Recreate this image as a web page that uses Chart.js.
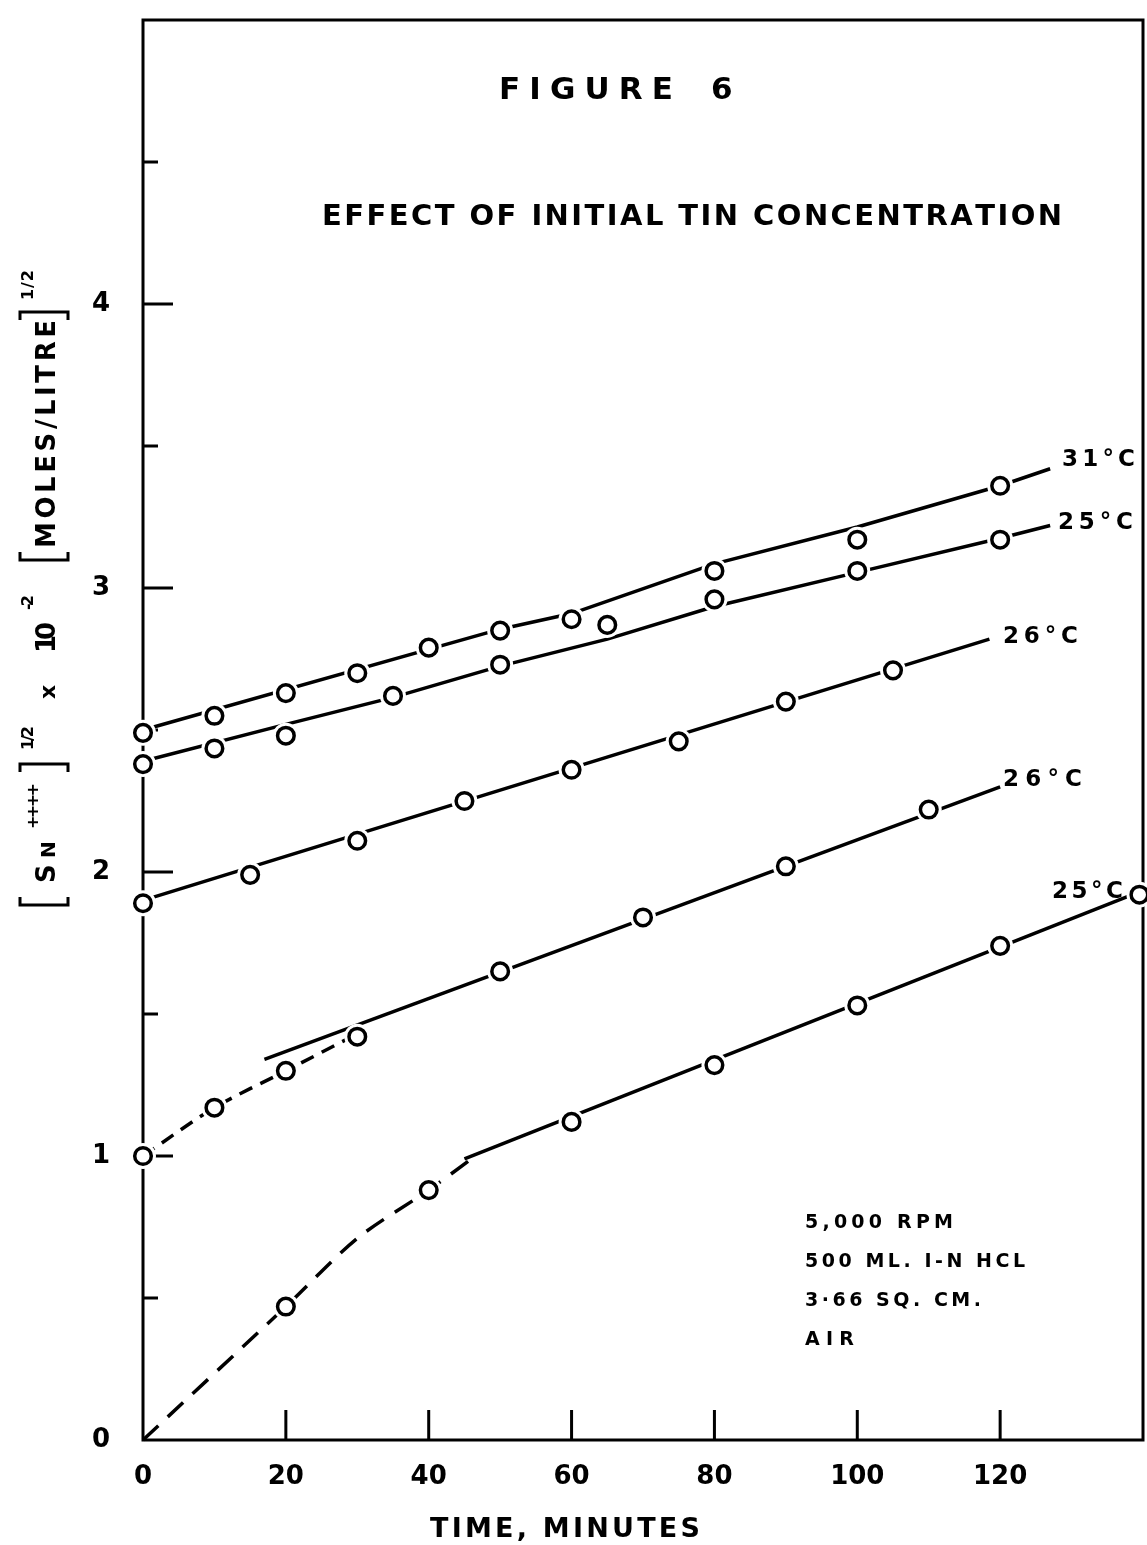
<!DOCTYPE html>
<html>
<head>
<meta charset="utf-8">
<script src="https://cdn.jsdelivr.net/npm/chart.js@4"></script>
<style>
  html, body { margin: 0; padding: 0; background: #fff; }
  canvas { display: block; }
</style>
</head>
<body>
<canvas id="chart" width="1147" height="1545"></canvas>
<script>
// measured points (time in minutes, [Sn]^1/2 x 10^-2)
const t31 = [0, 10, 20, 30, 40, 50, 60, 80, 100, 120];
const c31 = [2.49, 2.55, 2.63, 2.70, 2.79, 2.85, 2.89, 3.06, 3.17, 3.36];
const t25a = [0, 10, 20, 35, 50, 65, 80, 100, 120];
const c25a = [2.38, 2.435, 2.48, 2.62, 2.73, 2.87, 2.96, 3.06, 3.17];
const t26a = [0, 15, 30, 45, 60, 75, 90, 105];
const c26a = [1.89, 1.99, 2.11, 2.25, 2.36, 2.46, 2.60, 2.71];
const t26b = [0, 10, 20, 30, 50, 70, 90, 110];
const c26b = [1.00, 1.17, 1.30, 1.42, 1.65, 1.84, 2.02, 2.22];
const t25b = [20, 40, 60, 80, 100, 120, 139.5];
const c25b = [0.47, 0.88, 1.12, 1.32, 1.53, 1.74, 1.92];

// hand drawn lines through the points
const fitT31 = [0, 50, 60, 80, 100, 120, 127];
const fitC31 = [2.50, 2.855, 2.91, 3.085, 3.215, 3.36, 3.42];
const fitT25a = [0, 20, 35, 50, 65, 80, 100, 120, 127];
const fitC25a = [2.39, 2.52, 2.615, 2.725, 2.82, 2.935, 3.055, 3.175, 3.22];
const fitT26a = [0, 118.5];
const fitC26a = [1.90, 2.82];
const fitT26b = [17, 120];
const fitC26b = [1.34, 2.30];
const dashT26b = [0, 10, 20, 30];
const dashC26b = [1.00, 1.17, 1.30, 1.43];
const fitT25b = [45, 139.5];
const fitC25b = [0.99, 1.93];
const dashT25b = [0, 20, 30, 40, 46];
const dashC25b = [0, 0.47, 0.71, 0.88, 0.99];

const xTickValues = [20, 40, 60, 80, 100, 120];
const yMajorValues = [1, 2, 3, 4];
const yMinorValues = [0.5, 1.5, 2.5, 3.5, 4.5];

const seriesNames = [`31°C`, `25°C`, `26°C`, `26°C`, `25°C`];
const notes = [`5,000 RPM`, `500 ML. I-N HCL`, `3·66 SQ. CM.`, `AIR`];

const FONT = `"DejaVu Sans"`;
const INK = `#000`;

const toPoints = (xs, ys) => xs.map((x, i) => ({x, y: ys[i]}));

const markerSet = (xs, ys) => ({
  data: toPoints(xs, ys),
  showLine: false,
  pointRadius: 8.3,
  pointBorderWidth: 3.5,
  pointBorderColor: INK,
  pointBackgroundColor: `#fff`,
  order: 1,
  clip: false
});

// white ring so lines stop short of the circles
const haloSet = (xs, ys) => ({
  data: toPoints(xs, ys),
  showLine: false,
  pointRadius: 13,
  pointBorderWidth: 0,
  pointBackgroundColor: `#fff`,
  order: 2,
  clip: false
});

const lineSet = (xs, ys, dash) => ({
  data: toPoints(xs, ys),
  showLine: true,
  borderColor: INK,
  borderWidth: 3.5,
  borderDash: dash || [],
  pointRadius: 0,
  tension: dash ? 0.3 : 0,
  order: 3,
  clip: false
});

const drawSpaced = (ctx, text, left, width, y, font) => {
  ctx.font = font;
  const chars = [...text];
  const widths = chars.map((c) => ctx.measureText(c).width);
  const total = widths.reduce((a, b) => a + b, 0);
  const gap = chars.length > 1 ? (width - total) / (chars.length - 1) : 0;
  let x = left;
  chars.forEach((c, i) => {
    ctx.fillText(c, x, y);
    x += widths[i] + gap;
  });
};

const frameAndTicks = {
  id: `frameAndTicks`,
  beforeDatasetsDraw(chart) {
    const {ctx, chartArea: a, scales} = chart;
    ctx.save();
    ctx.strokeStyle = INK;
    ctx.lineWidth = 3;
    ctx.strokeRect(a.left, a.top, a.right - a.left, a.bottom - a.top);
    ctx.beginPath();
    xTickValues.forEach((v) => {
      const x = scales.x.getPixelForValue(v);
      ctx.moveTo(x, a.bottom);
      ctx.lineTo(x, a.bottom - 30);
    });
    yMajorValues.forEach((v) => {
      const y = scales.y.getPixelForValue(v);
      ctx.moveTo(a.left, y);
      ctx.lineTo(a.left + 30, y);
    });
    yMinorValues.forEach((v) => {
      const y = scales.y.getPixelForValue(v);
      ctx.moveTo(a.left, y);
      ctx.lineTo(a.left + 15, y);
    });
    ctx.stroke();
    ctx.restore();
  }
};

const bracket = (ctx, x, open) => {
  const d = open ? 8 : -8;
  ctx.beginPath();
  ctx.moveTo(x + d, -35);
  ctx.lineTo(x, -35);
  ctx.lineTo(x, 13);
  ctx.lineTo(x + d, 13);
  ctx.stroke();
};

const texts = {
  id: `texts`,
  afterDraw(chart) {
    const {ctx} = chart;
    ctx.save();
    ctx.fillStyle = INK;
    ctx.strokeStyle = INK;
    ctx.textBaseline = `middle`;
    ctx.textAlign = `left`;

    drawSpaced(ctx, `FIGURE`, 499, 174, 91, `bold 31px ${FONT}`);
    drawSpaced(ctx, `6`, 711, 20, 91, `bold 31px ${FONT}`);
    drawSpaced(ctx, `EFFECT OF INITIAL TIN CONCENTRATION`, 322, 740, 217, `bold 29px ${FONT}`);

    const labelPos = [[1062, 460, 73], [1058, 523, 75], [1003, 637, 75], [1003, 780, 79], [1052, 892, 71]];
    seriesNames.forEach((s, i) => {
      const [x, y, w] = labelPos[i];
      drawSpaced(ctx, s, x, w, y, `bold 23px ${FONT}`);
    });

    const noteWidths = [148, 220, 176, 49];
    notes.forEach((s, i) => {
      drawSpaced(ctx, s, 805, noteWidths[i], 1223 + i * 39, `bold 19px ${FONT}`);
    });

    drawSpaced(ctx, `TIME, MINUTES`, 430, 270, 1530, `bold 27px ${FONT}`);

    // rotated y axis title
    ctx.translate(55, 910);
    ctx.rotate(-Math.PI / 2);
    ctx.textBaseline = `alphabetic`;
    ctx.lineWidth = 3;
    const big = `bold 26px ${FONT}`;
    const sup = `bold 16px ${FONT}`;
    bracket(ctx, 5, true);
    drawSpaced(ctx, `S`, 27, 18, 0, big);
    drawSpaced(ctx, `N`, 52, 16, 0, `bold 20px ${FONT}`);
    drawSpaced(ctx, `++++`, 81, 46, -17, sup);
    bracket(ctx, 146, false);
    drawSpaced(ctx, `1/2`, 160, 24, -22, sup);
    drawSpaced(ctx, `x`, 211, 16, 0, `bold 22px ${FONT}`);
    drawSpaced(ctx, `10`, 257, 31, 0, big);
    drawSpaced(ctx, `-2`, 300, 15, -22, sup);
    bracket(ctx, 350, true);
    drawSpaced(ctx, `MOLES/LITRE`, 362, 228, 0, big);
    bracket(ctx, 598, false);
    drawSpaced(ctx, `1/2`, 610, 30, -22, sup);
    ctx.restore();
  }
};

new Chart(document.getElementById(`chart`), {
  type: `scatter`,
  data: {
    datasets: [
      markerSet(t31, c31),
      markerSet(t25a, c25a),
      markerSet(t26a, c26a),
      markerSet(t26b, c26b),
      markerSet(t25b, c25b),
      haloSet(t31, c31),
      haloSet(t25a, c25a),
      haloSet(t26a, c26a),
      haloSet(t26b, c26b),
      haloSet(t25b, c25b),
      lineSet(fitT31, fitC31),
      lineSet(fitT25a, fitC25a),
      lineSet(fitT26a, fitC26a),
      lineSet(fitT26b, fitC26b),
      lineSet(dashT26b, dashC26b, [14, 9]),
      lineSet(fitT25b, fitC25b),
      lineSet(dashT25b, dashC25b, [21, 13])
    ]
  },
  options: {
    responsive: false,
    animation: false,
    events: [],
    layout: {autoPadding: false, padding: {top: 20, right: 4, left: 0, bottom: 0}},
    plugins: {legend: {display: false}, tooltip: {enabled: false}},
    scales: {
      x: {
        type: `linear`,
        min: 0,
        max: 140,
        afterFit: (scale) => {
          scale.height = 105;
          scale.paddingLeft = 0;
          scale.paddingRight = 0;
        },
        grid: {display: false},
        border: {display: false},
        ticks: {
          stepSize: 20,
          autoSkip: false,
          maxRotation: 0,
          padding: 14,
          color: INK,
          font: {family: `DejaVu Sans`, size: 26, weight: `bold`},
          callback: (v) => (v < 140 ? String(v) : ``)
        }
      },
      y: {
        type: `linear`,
        min: 0,
        max: 5,
        afterFit: (scale) => {
          scale.width = 143;
          scale.paddingTop = 0;
          scale.paddingBottom = 0;
        },
        grid: {display: false},
        border: {display: false},
        ticks: {
          stepSize: 0.5,
          autoSkip: false,
          padding: 25,
          color: INK,
          font: {family: `DejaVu Sans`, size: 26, weight: `bold`},
          callback: (v) => (Number.isInteger(v) && v < 5 ? String(v) : ``)
        }
      }
    }
  },
  plugins: [frameAndTicks, texts]
});
</script>
</body>
</html>
